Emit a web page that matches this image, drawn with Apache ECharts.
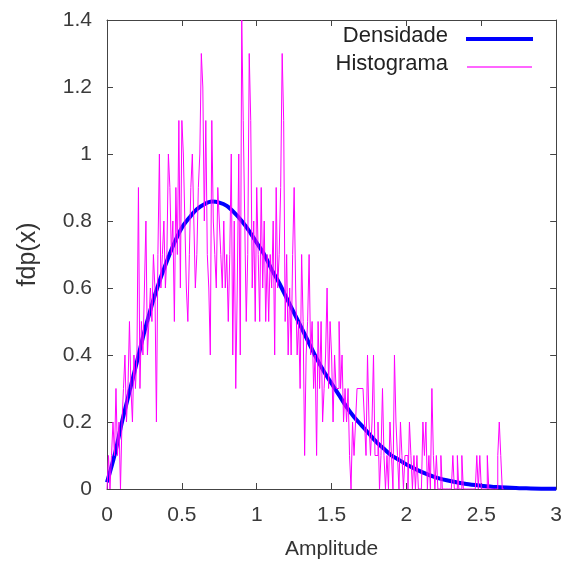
<!DOCTYPE html>
<html>
<head>
<meta charset="utf-8">
<script src="https://cdn.jsdelivr.net/npm/echarts@6/dist/echarts.min.js"></script>
<style>
html,body{margin:0;padding:0;background:#fff}
#c{width:565px;height:565px}
</style>
</head>
<body>
<div id="c"></div>
<script>
// Density curve
const densityX = [0,0.05,0.1,0.15,0.2,0.25,0.3,0.35,0.4,0.45,0.5,0.55,0.6,0.65,0.7,0.75,0.8,0.85,0.9,0.95,1.0,1.05,1.1,1.15,1.2,1.25,1.3,1.35,1.4,1.45,1.5,1.55,1.6,1.65,1.7,1.75,1.8,1.85,1.9,1.95,2.0,2.1,2.2,2.3,2.4,2.5,2.6,2.7,2.8,2.9,3.0];
const densityY = [0.02,0.10,0.20,0.29,0.38,0.47,0.55,0.62,0.68,0.735,0.78,0.81,0.835,0.85,0.858,0.855,0.845,0.825,0.80,0.77,0.735,0.70,0.655,0.615,0.57,0.525,0.48,0.435,0.39,0.35,0.315,0.28,0.245,0.215,0.19,0.165,0.14,0.12,0.10,0.087,0.073,0.051,0.034,0.023,0.015,0.010,0.006,0.004,0.002,0.001,0.001];

// Histogram (bin width 0.01 starting at 0)
const histStart = 0;
const histWidth = 0.01;
const histValues = [
  0,0.1,0,0.1,0.2,0.1,0.3,0.1,0.2,0,
  0.2,0.3,0.4,0.2,0.3,0.5,0.3,0.2,0.4,0.3,
  0.4,0.9,0.3,0.5,0.4,0.6,0.8,0.4,0.5,0.6,
  0.5,0.7,0.6,0.2,0.7,1.0,0.6,0.7,0.8,0.6,
  0.7,1.0,0.9,0.7,0.8,0.5,0.9,0.7,1.1,0.6,
  1.1,1.0,0.8,0.6,0.5,0.7,0.9,1.0,0.8,0.6,
  0.7,0.9,1.0,1.3,1.2,0.8,1.1,0.7,0.6,0.4,
  1.1,0.8,0.7,0.6,0.9,0.8,0.7,0.6,0.8,0.6,
  0.7,0.5,0.7,1.0,0.4,0.8,0.3,0.6,1.0,0.4,
  1.4,1.1,0.8,0.5,0.7,1.3,1.1,0.6,0.8,0.5,
  0.9,0.7,0.5,0.9,0.6,0.8,0.5,0.7,0.5,0.7,
  0.6,0.8,0.4,0.9,0.6,0.7,0.9,1.3,1.1,0.5,
  0.7,0.4,0.6,0.4,0.7,0.9,0.6,0.4,0.5,0.3,
  0.7,0.5,0.1,0.4,0.5,0.7,0.4,0.5,0.3,0.4,
  0.1,0.5,0.3,0.5,0.2,0.3,0.4,0.6,0.3,0.5,
  0.4,0.2,0.4,0.3,0.3,0.5,0.3,0.4,0.2,0.3,
  0.2,0.3,0.1,0,0.2,0.1,0.2,0.3,0.3,0.3,
  0.3,0.3,0.2,0.1,0.4,0.2,0.1,0.2,0.4,0.1,
  0.1,0.2,0,0.1,0.3,0.1,0,0.1,0,0.2,
  0.1,0,0.4,0.2,0.1,0,0.2,0.1,0,0.1,
  0.1,0,0.2,0.1,0,0.1,0,0.1,0,0,
  0,0.2,0.1,0.2,0,0.1,0,0.3,0.1,0,
  0.1,0,0,0.1,0,0,0,0,0,0,
  0,0.1,0,0,0.1,0,0,0.1,0,0,
  0,0,0,0,0,0,0,0.1,0,0.1,
  0,0,0,0,0.1,0,0,0,0,0,
  0,0.1,0.2,0.1,0
];

const xTicks = {min: 0, max: 3, interval: 0.5};
const yTicks = {min: 0, max: 1.4, interval: 0.2};
const legendNames = ['Densidade', 'Histograma'];

const densityData = densityX.map((x, i) => [x, densityY[i]]);
// step outline: each bin drawn flat from its left edge to its right edge
const histData = [];
histValues.forEach((v, i) => {
  const x0 = +(histStart + i * histWidth).toFixed(4);
  const x1 = +(histStart + (i + 1) * histWidth).toFixed(4);
  histData.push([x0, v], [x1, v]);
});

const font = 'Liberation Sans, Arial, sans-serif';
const axisCol = '#444';
const chart = echarts.init(document.getElementById('c'), null, {renderer: 'canvas'});

function xAx(pos, show) {
  return {
    type: 'value', position: pos, min: xTicks.min, max: xTicks.max, interval: xTicks.interval,
    axisLine: {show: true, onZero: false, lineStyle: {color: axisCol, width: 1}},
    axisTick: {show: true, inside: true, length: 6, lineStyle: {color: axisCol}},
    axisLabel: {show: show, color: '#3a3a3a', fontSize: 21, fontFamily: font, margin: 16},
    splitLine: {show: false},
    name: show ? 'Amplitude' : '', nameLocation: 'middle', nameGap: 50,
    nameTextStyle: {color: '#333', fontSize: 21, fontFamily: font}
  };
}
function yAx(pos, show) {
  return {
    type: 'value', position: pos, min: yTicks.min, max: yTicks.max, interval: yTicks.interval,
    axisLine: {show: true, onZero: false, lineStyle: {color: axisCol, width: 1}},
    axisTick: {show: true, inside: true, length: 6, lineStyle: {color: axisCol}},
    axisLabel: {show: show, color: '#3a3a3a', fontSize: 21, fontFamily: font, margin: 15},
    splitLine: {show: false},
    name: show ? 'fdp(x)' : '', nameLocation: 'middle', nameGap: 66, nameRotate: 90,
    nameTextStyle: {color: '#333', fontSize: 25, fontFamily: font}
  };
}

chart.setOption({
  animation: false,
  backgroundColor: '#fff',
  grid: {left: 107, right: 8, top: 20, bottom: 73, containLabel: false},
  xAxis: [xAx('bottom', true), xAx('top', false)],
  yAxis: [yAx('left', true), yAx('right', false)],
  series: [
    {
      name: legendNames[0], type: 'line', data: densityData, showSymbol: false, smooth: 0.3,
      lineStyle: {color: '#0000ff', width: 4}, z: 2
    },
    {
      name: legendNames[1], type: 'line', data: histData, showSymbol: false,
      lineStyle: {color: '#ff00ff', width: 1}, z: 3
    }
  ],
  graphic: [
    {type: 'text', right: 565 - 448, top: 25, style: {text: legendNames[0], fill: '#222', fontSize: 22, fontFamily: font}},
    {type: 'line', shape: {x1: 466, y1: 39, x2: 533, y2: 39}, style: {stroke: '#0000ff', lineWidth: 4}},
    {type: 'text', right: 565 - 448, top: 53, style: {text: legendNames[1], fill: '#222', fontSize: 22, fontFamily: font}},
    {type: 'line', shape: {x1: 467, y1: 67, x2: 532, y2: 67}, style: {stroke: '#ff33ff', lineWidth: 1.5}}
  ]
});
</script>
</body>
</html>
